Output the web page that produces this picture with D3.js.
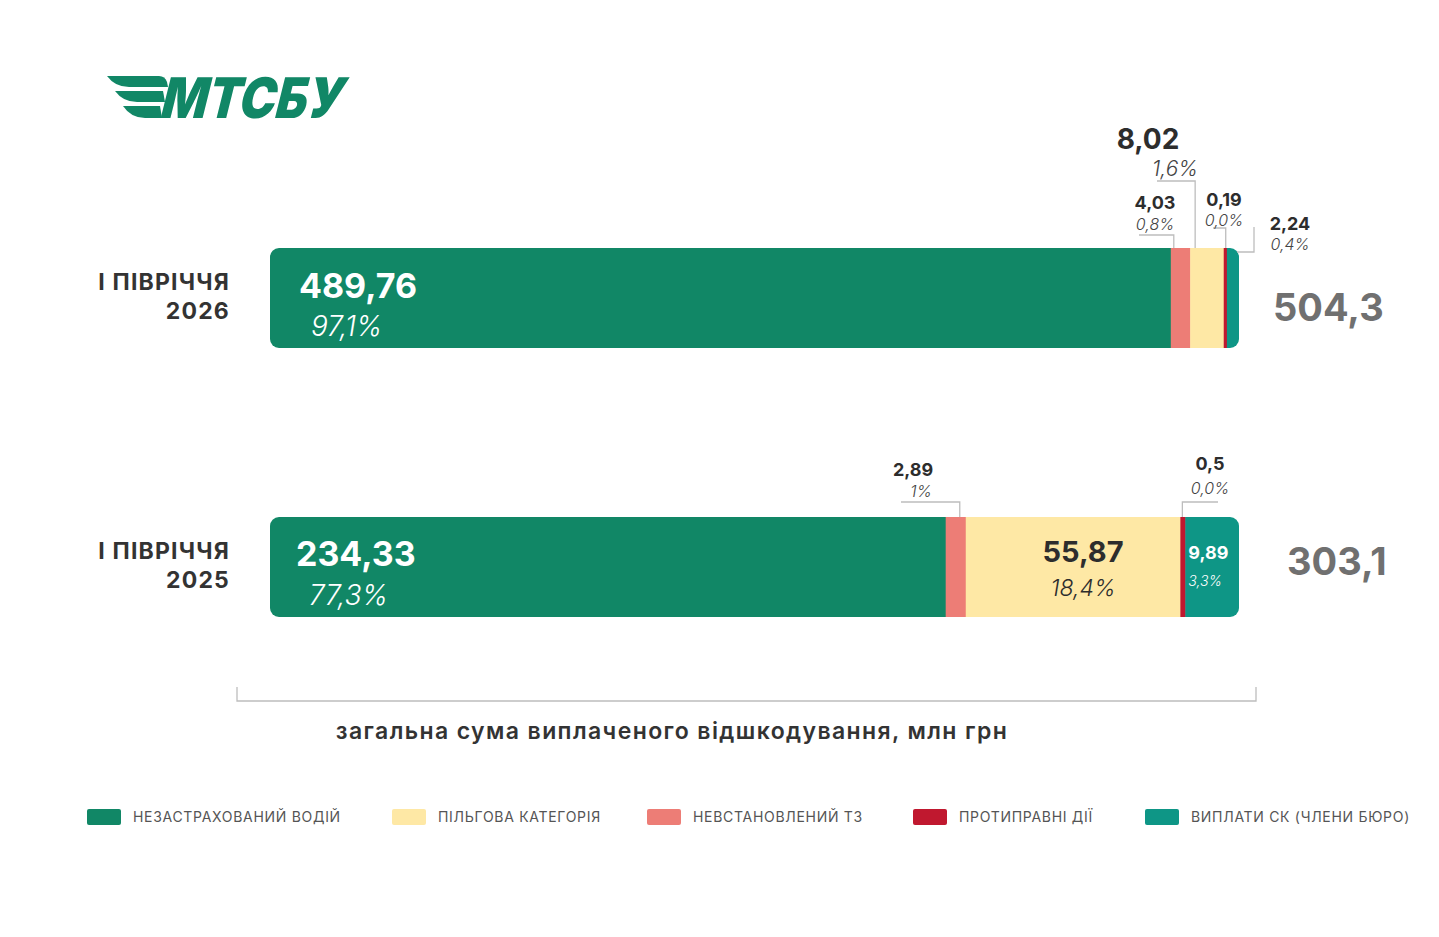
<!DOCTYPE html>
<html>
<head>
<meta charset="utf-8">
<script src="https://cdn.jsdelivr.net/npm/d3@7"></script>
<style>
  body { margin: 0; background: #fff; }
  svg { font-family: Inter, "Open Sans", sans-serif; display: block; }
</style>
</head>
<body>
<div id="chart"></div>
<script>
// Data
const periods = ["2026", "2025"];
const periodPrefix = "І ПІВРІЧЧЯ";
const categories = ["uninsured", "unknown", "benefit", "illegal", "members"];
const categoryNames = {
    uninsured: "НЕЗАСТРАХОВАНИЙ ВОДІЙ",
    benefit: "ПІЛЬГОВА КАТЕГОРІЯ",
    unknown: "НЕВСТАНОВЛЕНИЙ ТЗ",
    illegal: "ПРОТИПРАВНІ ДІЇ",
    members: "ВИПЛАТИ СК (ЧЛЕНИ БЮРО)"
};
const legendOrder = ["uninsured", "benefit", "unknown", "illegal", "members"];
const values2026 = [489.76, 4.03, 8.02, 0.19, 2.24];
const values2025 = [234.33, 2.89, 55.87, 0.5, 9.89];
const shares2026 = ["97,1%", "0,8%", "1,6%", "0,0%", "0,4%"];
const shares2025 = ["77,3%", "1%", "18,4%", "0,0%", "3,3%"];
const totals = ["504,3", "303,1"];
const axisTitle = "загальна сума виплаченого відшкодування, млн грн";

const colors = {
    uninsured: "#118766",
    benefit: "#FEE8A5",
    unknown: "#ED7D76",
    illegal: "#C0182F",
    members: "#0E9686"
};

const fmt = v => String(v).replace(".", ",");

const width = 1439, height = 937;
const svg = d3.select("#chart").append("svg")
    .attr("width", width)
    .attr("height", height);

// Logo
const logo = svg.append("g").attr("transform", "translate(107,76)");
logo.append("path")
    .attr("d", "M0,0 L52,0 Q58,0 60,6 L61,11 L22,11 Q8,11 0,0 Z")
    .attr("fill", "#118766");
logo.append("path")
    .attr("d", "M8,15 L56,15 L58,26 L30,26 Q16,26 8,15 Z")
    .attr("fill", "#118766");
logo.append("path")
    .attr("d", "M16,30 L53,30 L55,42 L38,42 Q24,42 16,30 Z")
    .attr("fill", "#118766");
logo.append("text")
    .attr("x", 52)
    .attr("y", 42)
    .attr("transform", "skewX(-14) translate(10,0)")
    .attr("font-size", 56)
    .attr("font-weight", 900)
    .attr("fill", "#118766")
    .attr("textLength", 182)
    .attr("lengthAdjust", "spacingAndGlyphs")
    .text("МТСБУ");

// Scales
const x0 = 270, x1 = 1239;
const bh = 100;
const yPos = d3.scalePoint().domain(periods).range([248, 517]);
const pow = d3.scalePow().exponent(0.8).domain([0, 1]).range([0, 1]);

const rows = periods.map((p, i) => {
    const vals = i === 0 ? values2026 : values2025;
    const shares = i === 0 ? shares2026 : shares2025;
    const weights = vals.map(v => Math.max(pow(v), 0.5));
    const sum = d3.sum(weights);
    const xs = d3.scaleLinear().domain([0, sum]).range([x0, x1]);
    let acc = 0;
    const segs = categories.map((c, j) => {
        const s = { key: c, value: vals[j], share: shares[j], x: xs(acc), w: xs(acc + weights[j]) - xs(acc) };
        acc += weights[j];
        return s;
    });
    return { period: p, total: totals[i], segs };
});

const defs = svg.append("defs");

rows.forEach((row, i) => {
    const y = yPos(row.period);
    const g = svg.append("g");

    // clip for rounded bar
    const clipId = "clip" + i;
    defs.append("clipPath").attr("id", clipId)
        .append("rect")
        .attr("x", x0).attr("y", y)
        .attr("width", x1 - x0).attr("height", bh)
        .attr("rx", 9);

    g.append("g").attr("clip-path", `url(#${clipId})`)
        .selectAll("rect")
        .data(row.segs)
        .join("rect")
        .attr("x", d => d.x)
        .attr("y", y)
        .attr("width", d => d.w + 0.5)
        .attr("height", bh)
        .attr("fill", d => colors[d.key]);

    // row label
    const lab = g.append("text")
        .attr("text-anchor", "end")
        .attr("font-size", 23)
        .attr("font-weight", 700)
        .attr("letter-spacing", 1.2)
        .attr("fill", "#333");
    lab.append("tspan").attr("x", 230).attr("y", y + 42).text(periodPrefix);
    lab.append("tspan").attr("x", 230).attr("y", y + 71).text(row.period);

    // total
    g.append("text")
        .attr("x", x1 + 34 + i * 14)
        .attr("y", y + 73 - i * 15)
        .attr("font-size", 38)
        .attr("font-weight", 700)
        .attr("fill", "#707070")
        .text(row.total);
});

// labels inside bars
function inner(seg, y, opt) {
    const g = svg.append("g");
    g.append("text")
        .attr("x", opt.x).attr("y", y + opt.dy1)
        .attr("text-anchor", opt.anchor || "start")
        .attr("font-size", opt.s1).attr("font-weight", 700)
        .attr("fill", opt.color)
        .text(fmt(seg.value));
    g.append("text")
        .attr("x", opt.x + (opt.off || 0)).attr("y", y + opt.dy2)
        .attr("text-anchor", opt.anchor || "start")
        .attr("font-size", opt.s2).attr("font-weight", 300)
        .attr("font-style", "italic")
        .attr("fill", opt.color)
        .text(seg.share);
}

const yTop = yPos("2026"), yBot = yPos("2025");
const topSegs = rows[0].segs, botSegs = rows[1].segs;

inner(topSegs[0], yTop, { x: topSegs[0].x + 29, dy1: 50, dy2: 88, s1: 34, s2: 28, color: "#fff", off: 12 });
inner(botSegs[0], yBot, { x: botSegs[0].x + 26, dy1: 49, dy2: 88, s1: 34, s2: 28, color: "#fff", off: 13 });
inner(botSegs[2], yBot, { x: 1083, dy1: 45, dy2: 79, s1: 29, s2: 23, color: "#2d2d2d", anchor: "middle" });
inner(botSegs[4], yBot, { x: botSegs[4].x + 3, dy1: 42, dy2: 69, s1: 18, s2: 14, color: "#fff" });

// callouts with leader lines
function callout(seg, y, opt) {
    const g = svg.append("g");
    const lx = opt.lx;
    g.append("path")
        .attr("d", opt.path(lx, y))
        .attr("fill", "none")
        .attr("stroke", "#bdbdbd")
        .attr("stroke-width", 1.3);
    g.append("text")
        .attr("x", opt.tx).attr("y", opt.ty)
        .attr("text-anchor", "middle")
        .attr("font-size", opt.s1).attr("font-weight", 700)
        .attr("fill", "#2d2d2d")
        .text(fmt(seg.value));
    g.append("text")
        .attr("x", opt.tx + (opt.off || 0)).attr("y", opt.ty + opt.gap)
        .attr("text-anchor", "middle")
        .attr("font-size", opt.s2).attr("font-weight", 300)
        .attr("font-style", "italic")
        .attr("fill", "#444")
        .text(seg.share);
}

// 2026
callout(topSegs[2], yTop, { lx: topSegs[2].x + 5, tx: 1148, ty: 149, gap: 27, s1: 28, s2: 21, off: 27,
    path: (lx, y) => `M1157,181 H${lx} V${y}` });
callout(topSegs[1], yTop, { lx: topSegs[1].x + 3, tx: 1155, ty: 209, gap: 21, s1: 18, s2: 16,
    path: (lx, y) => `M1139,235 H${lx} V${y}` });
callout(topSegs[3], yTop, { lx: topSegs[3].x + 2, tx: 1224, ty: 206, gap: 20, s1: 18, s2: 16,
    path: (lx, y) => `M1213,228 H${lx} V${y}` });
callout(topSegs[4], yTop, { lx: 1254, tx: 1290, ty: 230, gap: 20, s1: 18, s2: 16,
    path: (lx, y) => `M${lx},227 V252 H${topSegs[4].x + topSegs[4].w - 2}` });

// 2025
callout(botSegs[1], yBot, { lx: botSegs[1].x + botSegs[1].w - 6, tx: 913, ty: 476, gap: 21, s1: 18, s2: 16, off: 8,
    path: (lx, y) => `M901,502 H${lx} V${y}` });
callout(botSegs[3], yBot, { lx: botSegs[3].x + 2, tx: 1210, ty: 470, gap: 24, s1: 18, s2: 16,
    path: (lx, y) => `M1218,502 H${lx} V${y}` });

// axis bracket
svg.append("path")
    .attr("d", "M237,687 V701 H1256 V687")
    .attr("fill", "none")
    .attr("stroke", "#bdbdbd")
    .attr("stroke-width", 1.3);
svg.append("text")
    .attr("x", 672).attr("y", 739)
    .attr("text-anchor", "middle")
    .attr("font-size", 23).attr("font-weight", 600)
    .attr("letter-spacing", 1.4)
    .attr("fill", "#333")
    .text(axisTitle);

// legend
const legendX = d3.scaleOrdinal().domain(legendOrder).range([87, 392, 647, 913, 1145]);
const leg = svg.append("g").selectAll("g")
    .data(legendOrder)
    .join("g")
    .attr("transform", d => `translate(${legendX(d)},809)`);
leg.append("rect")
    .attr("width", 34).attr("height", 16).attr("rx", 2)
    .attr("fill", d => colors[d]);
leg.append("text")
    .attr("x", 46).attr("y", 13)
    .attr("font-size", 14)
    .attr("letter-spacing", 0.7)
    .attr("fill", "#555")
    .text(d => categoryNames[d]);
</script>
</body>
</html>
